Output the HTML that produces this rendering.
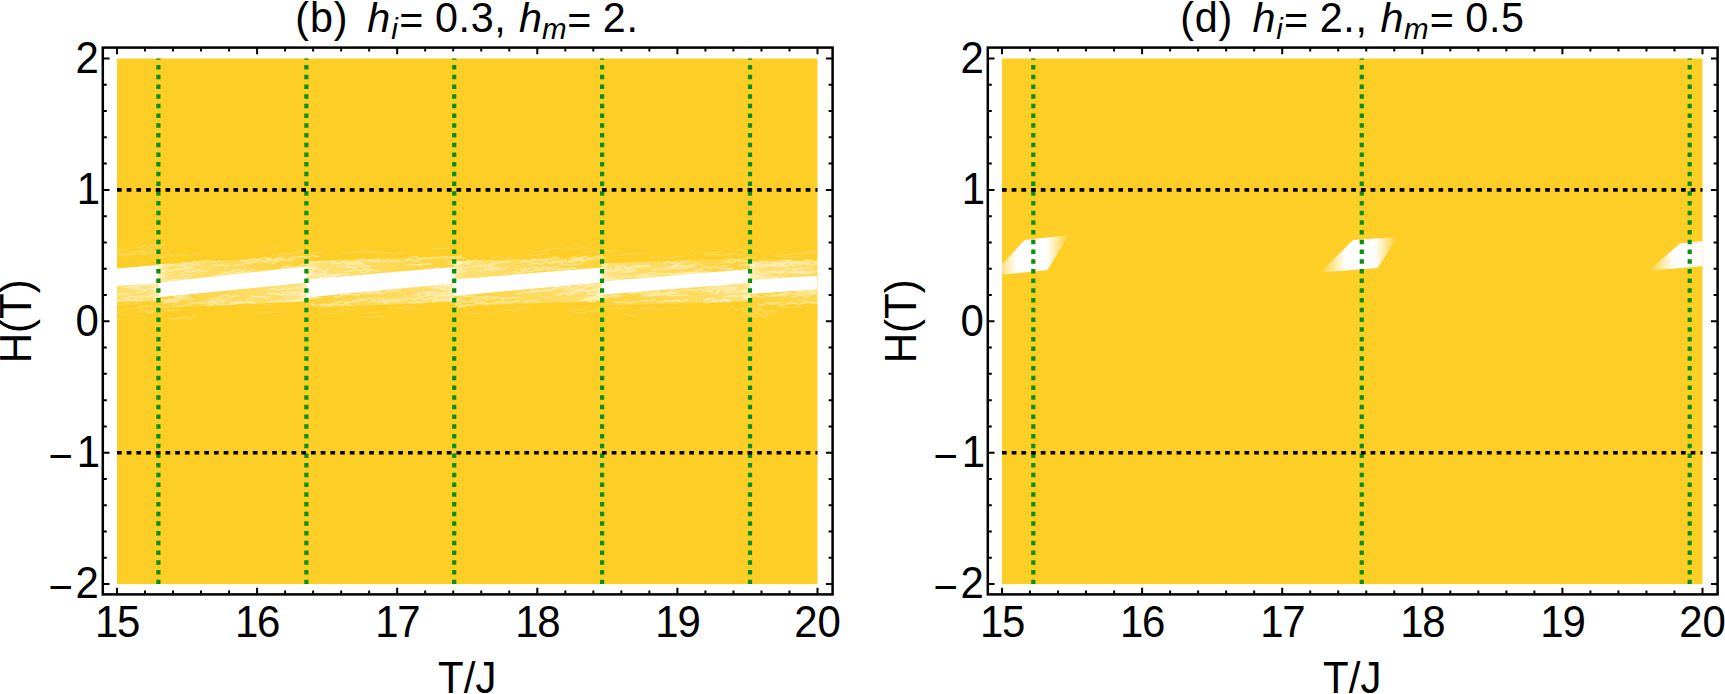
<!DOCTYPE html>
<html><head><meta charset="utf-8"><title>plot</title>
<style>
html,body{margin:0;padding:0;background:#fff;overflow:hidden}
svg{display:block}
text{font-family:"Liberation Sans",sans-serif;fill:#000}
</style></head><body>
<svg width="1725" height="694" viewBox="0 0 1725 694">
<defs>
<clipPath id="clipL"><rect x="117" y="58.5" width="700.5" height="525.6"/></clipPath>
<linearGradient id="blob" x1="0" y1="0" x2="1" y2="0">
<stop offset="0" stop-color="#fff" stop-opacity="0"/>
<stop offset="0.33" stop-color="#fff" stop-opacity="1"/>
<stop offset="0.71" stop-color="#fff" stop-opacity="1"/>
<stop offset="1" stop-color="#fff" stop-opacity="0"/>
</linearGradient>
<linearGradient id="pg1" gradientUnits="userSpaceOnUse" x1="158.4" y1="0" x2="10.5" y2="0"><stop offset="0" stop-color="#fff" stop-opacity="0.62"/><stop offset="0.07" stop-color="#fff" stop-opacity="0.36"/><stop offset="0.5" stop-color="#fff" stop-opacity="0.24"/><stop offset="1" stop-color="#fff" stop-opacity="0.08"/></linearGradient>
<linearGradient id="pg2" gradientUnits="userSpaceOnUse" x1="158.4" y1="0" x2="306.3" y2="0"><stop offset="0" stop-color="#fff" stop-opacity="0.62"/><stop offset="0.07" stop-color="#fff" stop-opacity="0.36"/><stop offset="0.5" stop-color="#fff" stop-opacity="0.24"/><stop offset="1" stop-color="#fff" stop-opacity="0.08"/></linearGradient>
<linearGradient id="pg3" gradientUnits="userSpaceOnUse" x1="306.3" y1="0" x2="158.4" y2="0"><stop offset="0" stop-color="#fff" stop-opacity="0.62"/><stop offset="0.07" stop-color="#fff" stop-opacity="0.36"/><stop offset="0.5" stop-color="#fff" stop-opacity="0.24"/><stop offset="1" stop-color="#fff" stop-opacity="0.08"/></linearGradient>
<linearGradient id="pg4" gradientUnits="userSpaceOnUse" x1="306.4" y1="0" x2="454.3" y2="0"><stop offset="0" stop-color="#fff" stop-opacity="0.62"/><stop offset="0.07" stop-color="#fff" stop-opacity="0.36"/><stop offset="0.5" stop-color="#fff" stop-opacity="0.24"/><stop offset="1" stop-color="#fff" stop-opacity="0.08"/></linearGradient>
<linearGradient id="pg5" gradientUnits="userSpaceOnUse" x1="454.3" y1="0" x2="306.4" y2="0"><stop offset="0" stop-color="#fff" stop-opacity="0.62"/><stop offset="0.07" stop-color="#fff" stop-opacity="0.36"/><stop offset="0.5" stop-color="#fff" stop-opacity="0.24"/><stop offset="1" stop-color="#fff" stop-opacity="0.08"/></linearGradient>
<linearGradient id="pg6" gradientUnits="userSpaceOnUse" x1="454.2" y1="0" x2="602.1" y2="0"><stop offset="0" stop-color="#fff" stop-opacity="0.62"/><stop offset="0.07" stop-color="#fff" stop-opacity="0.36"/><stop offset="0.5" stop-color="#fff" stop-opacity="0.24"/><stop offset="1" stop-color="#fff" stop-opacity="0.08"/></linearGradient>
<linearGradient id="pg7" gradientUnits="userSpaceOnUse" x1="602.1" y1="0" x2="454.2" y2="0"><stop offset="0" stop-color="#fff" stop-opacity="0.62"/><stop offset="0.07" stop-color="#fff" stop-opacity="0.36"/><stop offset="0.5" stop-color="#fff" stop-opacity="0.24"/><stop offset="1" stop-color="#fff" stop-opacity="0.08"/></linearGradient>
<linearGradient id="pg8" gradientUnits="userSpaceOnUse" x1="602.1" y1="0" x2="750" y2="0"><stop offset="0" stop-color="#fff" stop-opacity="0.62"/><stop offset="0.07" stop-color="#fff" stop-opacity="0.36"/><stop offset="0.5" stop-color="#fff" stop-opacity="0.24"/><stop offset="1" stop-color="#fff" stop-opacity="0.08"/></linearGradient>
<linearGradient id="pg9" gradientUnits="userSpaceOnUse" x1="750" y1="0" x2="602.1" y2="0"><stop offset="0" stop-color="#fff" stop-opacity="0.62"/><stop offset="0.07" stop-color="#fff" stop-opacity="0.36"/><stop offset="0.5" stop-color="#fff" stop-opacity="0.24"/><stop offset="1" stop-color="#fff" stop-opacity="0.08"/></linearGradient>
<linearGradient id="pg10" gradientUnits="userSpaceOnUse" x1="750" y1="0" x2="897.9" y2="0"><stop offset="0" stop-color="#fff" stop-opacity="0.62"/><stop offset="0.07" stop-color="#fff" stop-opacity="0.36"/><stop offset="0.5" stop-color="#fff" stop-opacity="0.24"/><stop offset="1" stop-color="#fff" stop-opacity="0.08"/></linearGradient>
<linearGradient id="pg11" gradientUnits="userSpaceOnUse" x1="897.9" y1="0" x2="750" y2="0"><stop offset="0" stop-color="#fff" stop-opacity="0.62"/><stop offset="0.07" stop-color="#fff" stop-opacity="0.36"/><stop offset="0.5" stop-color="#fff" stop-opacity="0.24"/><stop offset="1" stop-color="#fff" stop-opacity="0.08"/></linearGradient></defs>
<g>
<text transform="translate(295.34 31.5) scale(1 1.035)" font-size="41.3" letter-spacing="0.8">(b) </text>
<text transform="translate(367.2 31.5)" font-size="41.3" font-style="italic">h</text>
<text transform="translate(391.13 38.9)" font-size="29.5" font-style="italic">i</text>
<text transform="translate(399.28 33.8)" font-size="41.3">= </text>
<text transform="translate(434.88 31.5) scale(1 1.035)" font-size="41.3" letter-spacing="0.7">0.3, </text>
<text transform="translate(519.1 31.5)" font-size="41.3" font-style="italic">h</text>
<text transform="translate(542 38.9)" font-size="29.5" font-style="italic">m</text>
<text transform="translate(567.18 33.8)" font-size="41.3">= </text>
<text transform="translate(602.78 31.5) scale(1 1.035)" font-size="41.3" letter-spacing="0.7">2.</text>
<rect x="117" y="58.5" width="700.5" height="525.6" fill="#fdce26"/>
<g clip-path="url(#clipL)">
<polygon points="117,286.1 158.4,283.2 158.4,301.2 117,302.14" fill="url(#pg1)"/>
<polygon points="158.4,264.5 306.4,255.3 306.4,266.3 158.4,282.5" fill="url(#pg2)"/>
<polygon points="158.4,297.3 306.4,282.8 306.4,300.8 158.4,308.3" fill="url(#pg3)"/>
<polygon points="306.4,261.3 454.2,256 454.2,267 306.4,279.3" fill="url(#pg4)"/>
<polygon points="306.4,297.4 454.2,283.6 454.2,301.6 306.4,308.4" fill="url(#pg5)"/>
<polygon points="454.2,261.3 602.1,256.6 602.1,267.6 454.2,279.3" fill="url(#pg6)"/>
<polygon points="454.2,295.9 602.1,282.5 602.1,300.5 454.2,306.9" fill="url(#pg7)"/>
<polygon points="602.1,263.2 750,258.1 750,269.1 602.1,281.2" fill="url(#pg8)"/>
<polygon points="602.1,294.8 750,283.1 750,301.1 602.1,305.8" fill="url(#pg9)"/>
<polygon points="750,261.8 817.5,260.89 817.5,275.7 750,279.8" fill="url(#pg10)"/>
<polygon points="750,294.1 817.5,289.2 817.5,303.39 750,305.1" fill="url(#pg11)"/>
<path d="M123.26,296.98 L127.42,298.78 L131.58,296.21 L135.73,296.91 L139.89,297.71 L144.05,295.87 L148.2,296.66 L152.36,295.25 L156.52,296.87 M115.5,299.66 L119.93,300.61 L124.37,300.2 L128.8,300.03 L133.24,299.56 L137.67,300.5 L142.1,300.67 M127.81,286.91 L131.89,286.48 L135.98,287.18 L140.07,286.42 L144.16,284.65 L148.24,284.65 L152.33,285.17 L156.42,283.09 M133.8,285.66 L138.22,287.36 L142.64,285.29 L147.07,285.33 L151.49,285.45 M115.66,293.51 L120.91,294.19 L126.17,293.75 L131.43,293.62 M138.46,291.79 L143.09,291.75 L147.71,289.25 L152.34,289.07 L156.97,288.98 L161.6,288.74 M128.16,288.28 L132.66,289.19 L137.15,288.79 L141.65,289.08 L146.14,289.9 L150.63,288.91 L155.13,288.16 M121.3,287.79 L125.42,287.18 L129.55,287.17 L133.67,286.67 L137.8,285.26 L141.92,285 L146.05,283.9 L150.17,285.1 M265.57,260.52 L270.23,260.03 L274.89,260.65 L279.55,259.39 L284.21,259.49 M153.05,271.17 L157.31,271.19 L161.56,271.75 L165.81,270.06 L170.06,271.12 L174.32,269.62 L178.57,269.37 L182.82,269.01 L187.07,267.26 M202.41,262.67 L206.91,260.63 L211.42,261.19 L215.93,261.62 L220.43,260.86 M182.13,273.2 L186.36,270.92 L190.6,271.82 L194.83,270.57 L199.06,270.28 L203.3,271.29 L207.53,270.18 M214.96,274.81 L219.35,274.82 L223.74,274.06 L228.13,273.62 L232.52,273.66 L236.91,272.52 L241.3,272.29 L245.68,271.67 M280.87,268.83 L285.07,266.48 L289.27,266.88 L293.47,267.52 L297.66,266.8 L301.86,264.4 L306.06,263.92 L310.26,264.38 M154.32,266.56 L159.14,266.56 L163.97,266.56 L168.79,264.17 L173.62,265.42 M237.85,273.44 L242.14,270.9 L246.43,272.51 L250.71,270.51 L255,270.32 M288.27,258.15 L292.31,258.11 L296.35,257.33 L300.39,256.65 L304.43,256.71 L308.47,257.56 L312.51,255.31 L316.55,256.52 L320.59,255.92 M148.73,276.65 L152.99,275.01 L157.25,277.19 L161.51,276.25 L165.77,276.38 L170.03,273.56 M179.16,275.82 L184.12,274.94 L189.07,275.27 L194.03,276.15 M263.78,261.07 L268.71,259.75 L273.63,259.78 L278.55,257.72 L283.47,257.29 M239.43,261.72 L244.1,260.56 L248.77,260.72 L253.44,258.41 L258.11,260.26 L262.79,257.75 M269.39,262.08 L274.19,262.75 L278.98,260.53 L283.78,259.76 L288.58,260.5 L293.37,259.32 M158.94,264.54 L163.32,264.56 L167.71,264.26 L172.1,265.25 L176.49,263.65 M211.64,265.21 L216.12,265.51 L220.6,264.5 L225.08,266.16 L229.55,265.3 M164.66,279.55 L168.74,281.12 L172.81,279.6 L176.89,279.34 L180.96,279.86 L185.03,278.19 L189.11,278.08 M233.22,265.74 L237.67,265.04 L242.13,264.49 L246.58,263.49 L251.03,262.98 L255.48,261.81 L259.93,261.68 L264.38,261.16 L268.84,262.69 M176.48,265.78 L180.88,265.57 L185.28,264.72 L189.68,263.34 L194.07,262.94 M178.24,265.8 L182.25,265.01 L186.27,266.69 L190.29,266.44 L194.31,264.97 L198.33,263.84 L202.34,265.58 M181.63,262.74 L186,262.73 L190.36,262.54 L194.73,261.42 L199.1,262 L203.47,260.33 M178.42,268.79 L183.75,268.3 L189.07,268.66 L194.4,268.03 M221.34,272.3 L225.62,272.05 L229.89,272.09 L234.16,270.3 L238.44,269.71 L242.71,271.13 L246.98,268.38 M243.12,260.79 L247.15,260.69 L251.17,259.69 L255.19,259.73 L259.21,259.69 L263.23,257.55 L267.25,258.37 L271.28,258.05 M172.43,305.8 L176.96,306.4 L181.48,305.54 L186.01,305.31 L190.54,303.74 L195.07,302.92 L199.6,302.94 L204.13,303.31 M281.37,295 L285.42,294.71 L289.47,294.57 L293.51,293.75 L297.56,292.1 L301.61,294.03 L305.66,293.6 L309.71,292.63 L313.76,292.43 M210.75,301.41 L215.9,300.58 L221.05,300.79 L226.2,301.77 M270.82,302.19 L275.14,301.66 L279.47,301.7 L283.8,302.05 L288.12,302.06 L292.45,301.42 L296.77,301.27 L301.1,299.46 M283.09,297.1 L287.98,297.53 L292.88,295.67 L297.78,295.49 L302.67,295.77 M201.74,301.29 L205.91,301.64 L210.09,301.22 L214.26,300.95 L218.44,299.7 L222.62,301.6 L226.79,299.38 L230.97,301.28 M162.9,302.9 L167.7,302.95 L172.49,301.13 L177.29,300.26 M267.98,290.2 L272.33,288.59 L276.68,289.28 L281.03,290.09 L285.38,287.41 L289.73,288.96 L294.08,287.7 L298.43,288.38 L302.78,287.48 M265.77,293.27 L269.99,292.89 L274.21,293.94 L278.43,293.51 L282.65,292.78 L286.87,292.01 L291.09,292.26 L295.31,291.87 L299.52,293.02 M291.09,297.74 L295.45,299.74 L299.81,298.89 L304.17,299.16 L308.53,297.2 L312.89,297.17 L317.25,296.98 L321.61,298.42 M219.04,296.67 L223.42,295.69 L227.81,295.5 L232.2,297.21 L236.59,295.33 L240.97,296.81 M270.4,293.79 L275.36,293.94 L280.33,295.2 L285.29,294.63 L290.25,294.07 M206.14,305.23 L210.4,305.48 L214.66,303.38 L218.92,305.06 L223.18,304.05 L227.45,304.66 L231.71,304.13 L235.97,302.9 L240.23,302.01 M163.42,301.68 L167.62,301.23 L171.82,302.15 L176.02,302.5 L180.22,300.17 M208.72,299.53 L212.84,298.6 L216.96,298.29 L221.09,298.12 L225.21,299.78 L229.33,298.34 M267.13,302.6 L271.37,301.51 L275.61,301.44 L279.86,300.94 L284.1,301.43 L288.34,300.51 L292.58,300.71 L296.82,300.55 L301.07,301.21 M163.71,301.18 L168.07,301.15 L172.42,300.4 L176.78,299.95 L181.13,298.83 L185.49,299.09 L189.85,300.68 L194.2,297.98 M229.72,301.92 L234.36,301.81 L239,301.48 L243.64,301.64 L248.29,301.5 L252.93,302.66 L257.57,302.1 M174.29,296.71 L179.12,296.76 L183.94,295.12 L188.77,294.97 M295.09,301.01 L299.61,300.85 L304.14,300.93 L308.66,298.66 L313.18,298.03 L317.7,297.91 M226.17,304.66 L230.32,304.23 L234.46,304.34 L238.6,303.25 L242.75,303.3 L246.89,301.64 L251.03,303.5 L255.18,301.74 M158.96,299.55 L162.99,299.56 L167.02,300.3 L171.05,300.14 L175.08,298.16 L179.11,297.71 L183.14,298.64 L187.16,298.47 M251.61,296.06 L256.34,296.55 L261.07,296.66 L265.8,297.73 L270.53,296.52 M167.35,298.4 L171.43,300.04 L175.5,298.97 L179.58,297.5 L183.66,296.35 L187.73,297.33 L191.81,297.47 M246.53,299.98 L251.44,297.7 L256.36,296.83 L261.27,297.36 L266.19,297.26 M205.4,303.91 L209.99,302.97 L214.58,301.86 L219.17,303.72 L223.76,301.6 M442.04,256.28 L447,257.2 L451.95,257.6 L456.91,256.66 L461.87,255.87 M342.08,271.71 L346.69,271.67 L351.3,270.85 L355.9,269.02 L360.51,270.72 L365.12,268.88 L369.73,269.33 M334.36,262.91 L338.68,262.71 L343,262.26 L347.32,264.11 L351.64,263.05 L355.96,262.15 L360.28,262.15 L364.6,263.63 M360.14,272.3 L364.91,272.89 L369.68,270.05 L374.45,270.73 L379.23,271.34 M408.3,257.6 L412.56,256.95 L416.83,256.98 L421.09,259.02 L425.36,257.76 L429.62,258.57 L433.88,256.85 L438.15,258.07 L442.41,256.74 M318.28,276.26 L322.72,277.28 L327.17,276.98 L331.61,275.5 L336.06,275.56 L340.5,274.57 L344.94,274.39 L349.39,274.17 M370.19,260.69 L374.23,261.39 L378.28,262.19 L382.33,260.62 L386.38,260.8 L390.43,260.31 L394.47,261.78 L398.52,260.9 M302.97,268.74 L307.03,268.77 L311.09,267.01 L315.15,267 L319.21,268.26 M344.74,266.17 L348.79,264.17 L352.84,264.68 L356.88,263.89 L360.93,263.85 L364.98,264.9 M442.57,259.33 L446.97,257.66 L451.38,256.91 L455.78,259.22 L460.18,257.68 L464.58,258.59 M337.62,266.85 L341.8,266.2 L345.98,267.46 L350.15,267.47 L354.33,267.98 L358.51,265.44 L362.69,266.69 L366.87,265.75 L371.04,265.88 M309.61,271.68 L313.66,269.15 L317.7,269.97 L321.75,270.6 L325.8,270.81 L329.84,268.41 M300.19,279.32 L304.54,277.76 L308.88,279.85 L313.22,277.99 L317.57,279.08 L321.91,277.92 L326.25,278.14 L330.6,275.92 L334.94,277.32 M317.48,276.61 L322.06,274.46 L326.64,274.21 L331.22,274.37 L335.8,274.35 L340.38,273.63 M307.45,275.39 L312.31,272.65 L317.17,273.77 L322.03,273.97 L326.89,271.62 M416.64,265.15 L420.79,265.1 L424.94,263.93 L429.09,263.98 L433.23,264.17 M342.98,267.08 L347.05,265.69 L351.12,267.12 L355.19,266.53 L359.26,265.59 L363.33,266.83 L367.4,266.65 L371.48,265.51 M311.47,261.98 L315.54,262.66 L319.61,261.54 L323.68,262.36 L327.75,262.38 L331.81,260.9 L335.88,262.4 M297.84,275.95 L302.15,274.36 L306.45,275.3 L310.76,274.64 L315.06,275.93 L319.37,273.34 L323.67,275.04 L327.98,275.12 M390.52,262.35 L395.08,260.77 L399.64,261.86 L404.21,261.54 L408.77,259.24 L413.33,260.78 L417.89,260.97 L422.45,258.34 M331,264.2 L335.37,262.27 L339.75,263.59 L344.13,261.52 L348.5,262.34 L352.88,263.32 L357.26,261.13 L361.63,261.1 M358.97,259.09 L363.17,258.88 L367.37,260.89 L371.58,260.01 L375.78,260.46 L379.99,258.27 M407.32,265.08 L411.45,264.05 L415.59,265.24 L419.72,264.09 L423.85,263.91 M424.68,269.73 L428.75,268.74 L432.83,269.53 L436.9,267.7 L440.98,269.39 M368.85,302.08 L373.24,301.08 L377.62,302.42 L382.01,300.22 L386.39,302.13 L390.78,300.3 M351.9,301.32 L356.35,300.04 L360.81,298.88 L365.26,298.68 L369.72,298.71 L374.18,299.72 L378.63,298.91 L383.09,298.85 L387.54,299.63 M432.94,295.34 L437.69,294.99 L442.44,295.68 L447.19,294.69 L451.94,295.09 M417.97,295.75 L422.44,296.63 L426.92,295.92 L431.39,294.67 L435.86,296.62 L440.34,294.39 L444.81,293.83 M432.3,301.21 L436.31,299.94 L440.31,299.34 L444.32,298.43 L448.33,299.99 L452.33,299.55 L456.34,298.75 L460.34,299.37 M383.36,300.25 L387.69,301.83 L392.01,299.17 L396.34,300.28 L400.67,299.68 L405,298.95 L409.32,298.2 L413.65,299.96 L417.98,297.56 M366.7,292.9 L371.04,293.67 L375.37,293.01 L379.71,293.01 L384.05,293.12 L388.39,290.95 L392.72,290.95 L397.06,290.55 L401.4,289.47 M310.94,303.62 L315.4,305.7 L319.86,305.15 L324.32,304.11 L328.78,304.61 L333.24,303.54 L337.7,302.64 L342.16,302.04 M422.94,292.76 L427.89,292.22 L432.84,292.26 L437.79,291.5 M412.88,295.26 L417.24,294.2 L421.6,293.16 L425.97,293.9 L430.33,294.49 L434.7,292.07 L439.06,293.61 M443.55,289.41 L448.48,289.56 L453.41,288.6 L458.34,287.02 L463.27,288.17 M407.8,302.64 L412.62,302.57 L417.44,302.25 L422.25,302.88 L427.07,301.21 M320.72,305.9 L324.91,306.48 L329.11,305.83 L333.3,304.87 L337.49,304.39 L341.68,305.31 L345.88,303.57 L350.07,305.68 M433.73,288.53 L438.59,286.46 L443.45,285.47 L448.32,284.72 M436.8,296.66 L440.98,296.51 L445.15,294.36 L449.33,295.57 L453.51,294.67 L457.68,295.68 L461.86,295.42 L466.04,295.35 M432.71,302.38 L436.85,299.82 L440.99,299.89 L445.12,299.42 L449.26,299 L453.4,301.07 L457.53,300.76 L461.67,300.06 L465.81,300.38 M360.83,292.55 L364.89,294.03 L368.96,292.13 L373.02,292.09 L377.09,292.02 L381.15,290.53 M417.09,298.32 L421.13,297.95 L425.17,299.51 L429.22,297.98 L433.26,298.71 L437.3,297.82 M440.74,293.2 L445.35,291.67 L449.97,292.33 L454.59,291.53 L459.2,290.3 L463.82,291.77 M430.81,287.27 L434.81,287.49 L438.82,288.71 L442.82,288.97 L446.82,285.91 L450.83,286.93 L454.83,286.59 L458.84,287.1 L462.84,285.05 M382.08,301.79 L386.41,303.47 L390.73,301.39 L395.06,300.96 L399.39,302.09 L403.72,301.29 M430.84,287.95 L434.84,287.34 L438.84,287.23 L442.84,286.43 L446.85,285.31 L450.85,285.08 L454.85,284.7 L458.85,285.73 M430.53,285.41 L434.72,285.19 L438.91,286.59 L443.11,285.08 L447.3,284.35 L451.49,285.38 L455.69,283.17 L459.88,283.42 L464.07,283.23 M334.99,302.29 L339.36,301.95 L343.72,301.2 L348.09,302.85 L352.46,302.07 L356.82,302.02 L361.19,300.14 L365.56,300.62 M333.63,296.3 L338.08,297.1 L342.54,294.89 L347,294.37 L351.45,294.29 L355.91,295.03 L360.37,295.03 M490.74,263.02 L495.4,262.93 L500.07,262.27 L504.74,261.63 L509.4,261.71 M459.64,267.78 L464.04,268.07 L468.44,267.85 L472.84,266.66 L477.24,265.96 L481.65,266.46 L486.05,265.06 L490.45,266.83 L494.85,265.28 M565.09,261.88 L570.06,262.12 L575.03,261.2 L580,260.44 L584.97,262.21 M474.79,265.73 L479.64,265.36 L484.49,265.72 L489.33,265.56 L494.18,264.51 M572.64,259.16 L576.74,259.24 L580.84,258.76 L584.94,256.81 L589.04,258.61 L593.14,257.91 L597.24,256.04 L601.34,255.89 L605.44,258.38 M531.76,259.29 L536.63,259.37 L541.51,260.71 L546.38,259.32 L551.26,258.6 M568.88,260.86 L573.37,259.89 L577.85,260.2 L582.34,259.7 L586.83,260.16 L591.32,259.68 L595.81,259.65 L600.29,257.67 M534.84,269.09 L539.12,270.05 L543.4,268.84 L547.68,267.74 L551.96,267.37 L556.24,266.82 L560.52,267.52 M446.31,264.18 L450.36,264.04 L454.4,264 L458.45,264.75 L462.5,262.2 L466.54,264.38 L470.59,263.18 M511.94,271.95 L516.03,271.78 L520.12,273 L524.21,270.23 L528.3,271.51 L532.4,271.22 L536.49,269.22 L540.58,270.56 M528.72,265.06 L533.03,263.54 L537.34,263.26 L541.65,264.21 L545.96,261.59 L550.27,263.3 L554.59,262.84 L558.9,261.83 L563.21,263.09 M484.11,269.82 L488.18,268.02 L492.25,268.42 L496.33,268.16 L500.4,268.29 L504.47,268.83 L508.55,267.1 M559.53,263.87 L564.11,264.27 L568.68,265.33 L573.26,264.18 L577.83,264.31 L582.41,262.76 M479.1,270.75 L483.22,270.92 L487.33,268.6 L491.45,270.26 L495.57,270.47 L499.68,269.28 M447.37,260.76 L451.49,262.68 L455.61,261.67 L459.73,261.68 L463.85,261.91 L467.98,262.12 M520.43,269.06 L525.03,268.5 L529.62,268.46 L534.22,266.86 L538.81,267.85 L543.41,266.98 L548,267.55 M453.66,262.75 L458.16,262.99 L462.66,262.12 L467.16,261.16 L471.65,262.28 M550.57,261.15 L554.96,261.29 L559.36,260.81 L563.75,260.93 L568.15,261.33 L572.54,261.95 L576.93,259.3 M519.62,261.86 L524.57,261.02 L529.53,261.79 L534.48,260.29 M443.66,273.81 L448.17,273.66 L452.67,271.98 L457.17,271.53 L461.68,270.39 L466.18,271.64 M466.84,259.78 L471.18,261.54 L475.51,259.83 L479.85,262.05 L484.18,259.45 M569.97,258.46 L574.18,256.98 L578.39,258.22 L582.6,256.56 L586.81,256.03 M546.73,270.66 L550.97,268.54 L555.21,269.76 L559.46,269.68 L563.7,268.68 L567.94,269.69 L572.18,267.48 L576.43,269.17 M544.69,259.05 L549.44,259.36 L554.19,257.14 L558.94,257.63 M493.57,303.37 L497.98,301.96 L502.4,302.6 L506.81,302.96 L511.22,302.36 M502.7,301.72 L507,302.29 L511.3,302.02 L515.59,301.2 L519.89,300.88 M475.21,303.59 L479.55,302.59 L483.9,301.71 L488.25,304.04 L492.6,303.05 L496.95,303.16 L501.3,301.54 L505.65,302.08 L509.99,302.88 M471.09,297.81 L475.63,298.75 L480.17,296.98 L484.7,297.49 L489.24,296.92 L493.78,297.4 L498.32,296.8 M564.51,289.96 L569.19,290.05 L573.87,290.33 L578.55,290.16 M583.1,299.13 L587.14,298.09 L591.18,297.05 L595.22,298.45 L599.26,298.12 L603.3,297.57 L607.35,298 L611.39,296.2 L615.43,295.25 M515.69,293.82 L520.2,293.96 L524.7,291.64 L529.21,292.32 L533.72,292.15 L538.22,291.19 L542.73,290.1 L547.23,289.87 M482.97,297.82 L487.46,299.53 L491.95,299.12 L496.43,297.3 L500.92,297.96 L505.41,298.54 L509.9,298.2 L514.39,296.87 M530.05,290.93 L534.55,290.53 L539.04,291.62 L543.53,290.3 L548.03,290.5 L552.52,289.68 L557.02,289.63 M580.92,301.02 L585.91,300.05 L590.9,301.31 L595.9,301.52 M574.01,290.85 L578.54,289.12 L583.06,288.82 L587.58,291.16 L592.1,290.48 L596.63,289.08 L601.15,288.97 M558.86,294.46 L563.31,293.65 L567.76,293.48 L572.21,293.57 L576.65,291.27 L581.1,290.35 L585.55,290.5 L590,290.13 M587.88,294.48 L592.93,293.01 L597.97,294.05 L603.01,293.62 M583.74,289.91 L588.27,291.93 L592.8,289.64 L597.32,290.18 L601.85,290.07 L606.37,290.62 L610.9,289.5 M544.13,291.49 L548.9,291.17 L553.68,288.62 L558.45,287.71 L563.22,287.92 L567.99,287.79 M455,303.8 L459.24,305.65 L463.48,305.22 L467.72,304.83 L471.95,305.56 L476.19,302.74 L480.43,302.78 L484.67,304.27 L488.9,304.57 M501.01,300.2 L505.12,298.11 L509.24,298.47 L513.35,298.02 L517.47,297.39 L521.58,298.14 M576.5,287.72 L581.31,285.45 L586.12,287.02 L590.94,285.16 L595.75,284.31 M458.02,307.02 L462.73,306.87 L467.45,304.55 L472.16,305.19 L476.87,303.99 M450.98,302.87 L455.05,302.31 L459.12,303.42 L463.18,302.2 L467.25,302.38 L471.31,300.77 L475.38,300.74 L479.45,300.03 L483.51,301.63 M522.92,301.43 L527.21,301.62 L531.51,300.7 L535.81,300.81 L540.1,302.19 M555.63,293.96 L560.05,295.3 L564.47,292.79 L568.9,294.91 L573.32,292.04 M458.99,297.77 L463.09,296.91 L467.19,296.5 L471.29,296.01 L475.39,296.13 L479.49,297.56 L483.59,297.25 L487.69,296.71 M583.85,298.27 L587.93,299.95 L592,298.54 L596.07,300.26 L600.15,297.37 L604.22,299.39 M555.03,287.73 L559.3,286.48 L563.57,285.14 L567.84,285.45 L572.11,286.4 M566.75,287.06 L571.18,288.34 L575.61,287.81 L580.04,285.99 L584.46,285.29 L588.89,284.94 L593.32,286.03 M692.61,269.63 L696.94,269.56 L701.27,269.28 L705.59,266.62 L709.92,268.04 L714.25,266.71 L718.57,267.59 L722.9,266.18 L727.23,266.65 M722.32,262.2 L726.93,261.74 L731.54,262.97 L736.16,260.9 L740.77,260.74 L745.38,261.48 L749.99,259.79 M661.76,268.29 L666.14,268.59 L670.51,268.52 L674.89,267.18 L679.27,266.86 L683.65,266.62 L688.03,266.82 L692.41,266.88 L696.79,266.29 M619.42,272.94 L624.73,271.98 L630.04,271.54 L635.35,271.45 M607.21,271.34 L611.45,271.29 L615.68,270.64 L619.91,269.96 L624.15,269.53 L628.38,269.24 L632.61,269.81 L636.84,269.21 M670.75,267.05 L675.5,265.06 L680.26,265.71 L685.01,265.28 M615.01,268.66 L619.48,266.72 L623.94,266.25 L628.41,268.28 L632.87,266.86 L637.34,265.58 L641.81,266.28 L646.27,266.21 L650.74,266.82 M601.91,281.15 L606.65,279.14 L611.39,279.27 L616.13,278.93 L620.87,279.46 M666.51,273.31 L670.6,273.63 L674.69,273.34 L678.77,273.08 L682.86,271.99 L686.95,272.56 L691.04,272.04 L695.12,272.32 L699.21,269.81 M719.47,268.92 L724.17,268.34 L728.87,269.31 L733.57,267.89 M636.18,276.63 L640.64,275.65 L645.1,275.52 L649.56,275.19 L654.03,275.6 L658.49,274.06 L662.95,273.99 L667.42,274.11 M636.34,275.89 L640.56,274.61 L644.77,274.15 L648.99,273.12 L653.21,273.15 L657.42,272.4 M662.83,263.61 L667.29,261.77 L671.76,263.05 L676.22,262.87 L680.69,263.03 L685.16,260.75 L689.62,261.19 M726.54,259.67 L731.28,259.3 L736.03,260.31 L740.77,259.73 M652.34,269.6 L656.84,269.8 L661.34,268.71 L665.83,268.36 L670.33,268.76 L674.82,267.81 L679.32,269.21 L683.81,268.19 L688.31,267.5 M599.19,270.74 L603.64,270.54 L608.09,271.16 L612.53,271.16 L616.98,269.58 L621.43,269.22 M666.27,266.21 L670.76,266.78 L675.25,264.75 L679.74,264.93 L684.22,266.55 L688.71,265.9 L693.2,264.79 L697.69,263.44 L702.18,265.41 M679.06,275.85 L683.07,274.22 L687.08,273.15 L691.08,273.2 L695.09,273.49 L699.1,273.15 L703.1,271.93 L707.11,271.59 L711.12,272.52 M669.83,275.95 L674.18,273.93 L678.53,274.61 L682.89,275.31 L687.24,273.61 L691.6,274.33 M591.9,279.36 L596.04,279.28 L600.17,277.65 L604.31,278.19 L608.45,278.04 L612.59,276.92 M675.04,275.4 L679.33,274.59 L683.61,273.43 L687.89,273.18 L692.17,274.52 L696.45,272.34 L700.74,271.97 M605.56,278.08 L609.81,278.31 L614.06,275.91 L618.31,275.46 L622.56,277.27 L626.81,275.71 L631.06,276.49 M633.6,265.39 L638.03,267.44 L642.46,266.33 L646.89,265.47 L651.33,265.54 M639.45,276.6 L644.52,277.27 L649.58,275.42 L654.65,275.54 M716.46,302.02 L721.45,300.34 L726.44,301.8 L731.43,301.39 M703.03,301.95 L707.57,303.07 L712.12,300.94 L716.66,301.19 L721.2,301.96 L725.74,300.42 L730.29,300.51 M612.45,302.37 L616.56,302 L620.67,302.35 L624.78,301.7 L628.89,303.73 L633,301.65 L637.11,302.24 M727.24,291.16 L731.53,289.95 L735.82,289.85 L740.11,291.56 L744.4,289.97 L748.69,289.41 L752.98,288.99 M709.78,287.3 L714.59,286.03 L719.39,285.14 L724.2,286.3 L729,284.21 M705.07,288.52 L709.12,289.33 L713.17,288.95 L717.21,286.84 L721.26,287.09 L725.31,287.83 L729.35,286.56 L733.4,287.9 L737.44,285.5 M598.56,297.41 L602.75,296.22 L606.93,297.55 L611.11,296.01 L615.3,297.52 L619.48,296.36 L623.67,295.46 M710.65,290.69 L715.22,288.27 L719.78,289.05 L724.34,288.82 L728.91,287.74 L733.47,288.83 L738.03,287.43 M649.19,294.88 L653.6,293.74 L658.02,293.71 L662.43,295.32 L666.84,293.55 L671.26,294.22 L675.67,292.39 M667.06,296.14 L671.45,295.24 L675.84,295.69 L680.23,295.21 L684.62,294.68 L689.01,296.09 M708.12,301.74 L712.7,301.88 L717.27,301.65 L721.84,299.45 L726.42,299.69 L730.99,298.83 M644.44,295.78 L648.52,296.21 L652.61,296.07 L656.69,294.55 L660.78,295.97 L664.86,294.33 L668.95,294.85 L673.03,293.34 M723.03,298.1 L727.29,296.03 L731.55,295.84 L735.81,296 L740.07,295.91 L744.33,296.01 L748.59,296.04 L752.85,294.9 L757.11,295.47 M656.64,302.08 L661.13,302.32 L665.62,300.85 L670.1,301.17 L674.59,301.7 M703.31,300.74 L707.98,299.18 L712.66,298.32 L717.33,300.4 M663.17,292.28 L668.19,293.84 L673.2,291.88 L678.22,293.51 M638.91,300.44 L644.21,301.19 L649.5,301.17 L654.8,299.39 M725.31,293.39 L729.66,292.47 L734.01,292.34 L738.36,292.34 L742.72,291.52 L747.07,290.77 L751.42,289.4 L755.77,290.95 L760.13,289.93 M668.75,292.07 L673.06,289.74 L677.36,291.27 L681.66,291.25 L685.96,289.41 L690.27,289.89 L694.57,290.76 L698.87,289.52 L703.17,288.94 M716.24,291.39 L721.34,290.49 L726.45,290.47 L731.55,289.67 M639.75,294.14 L643.85,294.63 L647.96,294.15 L652.07,295.25 L656.17,293.33 L660.28,292.91 L664.39,294.27 L668.5,291.91 M667.16,301.27 L671.43,301.69 L675.7,299.86 L679.96,301.08 L684.23,300.72 L688.5,300.16 M627.84,293.57 L631.88,293.47 L635.91,292.75 L639.95,292.04 L643.99,292.36 L648.02,291.83 L652.06,292.94 L656.09,291.94 L660.13,290.7 M701.63,291.7 L705.68,291.18 L709.73,290.76 L713.78,293.25 L717.83,292.33 L721.88,290.21 L725.94,291.73 M592.55,296.67 L596.95,296.19 L601.35,295.18 L605.75,295.85 L610.15,294.02 L614.55,296.25 L618.95,295.16 M779.02,264.69 L783.4,263.85 L787.78,262.04 L792.16,263.99 L796.54,262.68 L800.92,261.98 L805.3,264.11 L809.68,262.92 M790.58,272.5 L794.83,272.79 L799.08,272.95 L803.33,271.74 L807.59,273.15 M749.48,274.35 L753.6,275.45 L757.72,274.51 L761.83,275.02 L765.95,273.96 L770.07,274.76 M797.93,272.44 L802.35,273.41 L806.78,272.96 L811.2,273.15 L815.63,270.97 M754.57,279.22 L758.88,277.07 L763.2,278.39 L767.52,276.72 L771.84,277.73 L776.15,278.19 L780.47,276.01 L784.79,278.03 M781.51,264.42 L786.41,265.4 L791.32,264.57 L796.22,263.15 L801.12,262.78 M738.49,265.54 L743.01,264.7 L747.52,265.71 L752.04,264.76 L756.55,263.99 L761.07,265.94 L765.59,264.9 L770.1,265.22 M784.29,261.12 L788.65,260.53 L793.01,261.45 L797.37,262.43 L801.72,262.16 L806.08,259.96 L810.44,260.31 L814.8,262.03 L819.16,261.58 M758.74,265.43 L762.82,264.08 L766.9,265.34 L770.97,264.52 L775.05,262.94 L779.13,263.56 L783.21,263.16 M795.2,260.96 L799.69,261.43 L804.18,261.66 L808.68,261.89 L813.17,261.29 L817.66,261.13 L822.16,260.09 M773.43,261.72 L777.7,263.13 L781.97,260.44 L786.24,260.66 L790.51,262.07 L794.78,260.89 M750.84,266.69 L755.01,266.47 L759.17,267.56 L763.34,267.55 L767.51,264.76 L771.67,266.13 L775.84,266.61 M791.39,271.78 L795.83,270.82 L800.26,270.4 L804.69,271.65 L809.13,271.68 L813.56,271.67 L817.99,270.75 L822.43,269.51 M783.03,270.1 L787.35,269.14 L791.67,269.54 L796,268.97 L800.32,267.84 L804.65,268.46 L808.97,268.25 L813.3,269.95 M766.03,265.04 L770.45,265.25 L774.86,264.54 L779.28,264.07 L783.7,266.38 L788.11,265.1 M761.31,266 L765.73,265.59 L770.15,266.13 L774.57,266.03 L778.99,267.07 L783.41,266.46 L787.82,267.42 M750.42,271.11 L754.7,271.21 L758.99,272.16 L763.27,273.12 L767.55,271.18 L771.84,272.17 L776.12,271.03 L780.4,272.08 L784.69,269.67 M760.4,265.81 L764.62,265.04 L768.84,265.33 L773.06,265.51 L777.29,266.62 L781.51,265.14 L785.73,265.54 L789.95,264.87 L794.18,265.88 M792.1,265.04 L796.14,265.59 L800.18,264.48 L804.21,262.93 L808.25,264.88 L812.29,264.98 L816.33,263.39 L820.36,262.72 M745.46,278.2 L749.76,278.76 L754.06,276.53 L758.37,276.61 L762.67,277.56 L766.97,277.04 L771.27,276.13 M780.89,262.1 L785.17,260.99 L789.46,262.55 L793.74,261.67 L798.03,262.04 L802.32,262.26 M750.26,263.23 L754.29,262.16 L758.32,263.29 L762.35,260.63 L766.38,262.13 L770.42,262.39 L774.45,261.22 M744.77,265.22 L749.13,263.24 L753.49,265.18 L757.85,263.99 L762.21,264.23 M771.69,272.95 L776.06,272 L780.42,272.95 L784.79,271.41 L789.16,272.48 L793.53,272.43 L797.9,272.27 M786.43,303.76 L790.86,303.15 L795.29,303.72 L799.72,304.78 L804.15,302.39 L808.58,301.93 L813,303.12 L817.43,303.51 M757.5,304.03 L761.89,305.4 L766.29,303.42 L770.68,303.13 L775.08,303.31 L779.47,302.99 M775.88,295.68 L780.25,293.79 L784.62,292.9 L788.99,292.7 L793.36,293.99 L797.73,294.23 L802.1,291.82 M801.13,294.99 L805.58,293.37 L810.02,293.48 L814.47,292.39 L818.91,293.4 L823.36,292.17 L827.8,291.52 L832.25,292.87 M798.26,291.87 L802.57,290.89 L806.87,291.89 L811.18,289.34 L815.48,290.45 L819.79,289.72 L824.09,290.84 L828.4,290.62 M770.37,294.97 L775.1,295.16 L779.83,294.31 L784.56,293.94 L789.3,295.21 M768.37,303.77 L772.49,304.66 L776.6,303.4 L780.71,305.27 L784.83,305.18 L788.94,303.39 M754.22,296.49 L758.23,296.68 L762.24,297.58 L766.25,295.3 L770.27,296.52 L774.28,296.04 L778.29,295.4 L782.31,295.52 L786.32,296.13 M791.2,296.56 L795.38,296.56 L799.56,294.42 L803.73,296.1 L807.91,296.23 L812.09,294.05 L816.27,293.05 L820.45,293.06 L824.63,295.25 M800.27,293.13 L804.53,291.06 L808.79,290.98 L813.04,292.14 L817.3,290.21 L821.56,290.63 L825.82,291.97 L830.07,291.12 L834.33,291.31 M744.35,297.85 L749.26,297.26 L754.17,295.13 L759.07,296.14 M794.92,290.87 L799.61,293.27 L804.31,291.07 L809,292.32 L813.69,289.88 L818.39,290.59" stroke="#fff" stroke-width="1.3" opacity="0.45" fill="none"/>
<path d="M118.45,254.8 L122.78,255.95 L127.11,255.32 L131.44,254.31 L135.77,255.42 M105.91,249.48 L110.62,250.25 L115.33,251.21 L120.04,249.08 L124.75,249.19 L129.45,250.16 M142.36,253.96 L146.81,251.2 L151.26,253.32 L155.71,251.57 L160.16,251.01 L164.61,250.78 L169.06,251.16 M140.13,254.94 L144.62,254.04 L149.11,254.37 L153.61,252.86 L158.1,252.69 M108.26,253.6 L112.4,254.22 L116.54,253.7 L120.67,253.13 L124.81,254.37 L128.95,253.96 L133.09,252.54 L137.23,253.32 M149.37,245.56 L154.53,245.87 L159.69,244.89 L164.85,244.56 M146.38,246.83 L150.44,249.06 L154.49,248.19 L158.55,246.75 L162.61,246.9 M136.35,247.07 L140.76,247.32 L145.16,245.69 L149.56,245.59 L153.96,244.32 L158.36,244.22 M137.63,252.16 L142.59,251.6 L147.55,254.03 L152.5,252.67 L157.46,251.43 M131.8,251.65 L136.66,251.15 L141.53,250.52 L146.39,249.13 M137.75,252.63 L142.17,253.17 L146.59,251.75 L151,251.3 L155.42,252.8 M141.24,312.15 L145.34,311.84 L149.43,310.31 L153.53,311.03 L157.62,310.49 L161.72,309.48 L165.81,309.38 L169.91,309.99 L174,309.84 M125.63,308.53 L130.01,308.58 L134.39,308.39 L138.77,306.63 L143.15,306.13 L147.53,306.05 L151.92,305.86 L156.3,305.79 L160.68,306.86 M137.06,307.87 L141.12,308.19 L145.18,306.09 L149.25,307.61 L153.31,308.22 L157.37,307.77 L161.43,307.59 L165.49,306.73 L169.55,305.8 M137.13,312.61 L141.4,310.9 L145.66,310.82 L149.92,312.25 L154.19,311.54 L158.45,309.88 M111.48,313.98 L115.81,312.04 L120.14,313.84 L124.47,314.17 L128.8,313.17 M115.13,302.39 L119.47,304.97 L123.82,303.98 L128.16,303.53 L132.51,304.57 L136.85,303.08 L141.2,304.2 M181.37,256.02 L186.14,254.42 L190.91,255.96 L195.68,254.39 L200.45,253.23 M272.09,255.35 L276.73,252.81 L281.36,253.22 L286,252.42 L290.63,254.26 L295.27,251.65 M295.08,251.06 L300.19,250.7 L305.29,249.96 L310.4,250.38 M160.32,257.46 L164.57,256.66 L168.82,254.4 L173.07,255.9 L177.32,254.84 L181.57,254.56 M260.28,247.58 L264.71,247.51 L269.14,248.92 L273.58,246.32 L278.01,248.4 M274.76,256.39 L279.13,255.03 L283.5,253.68 L287.87,254.6 L292.24,254.04 L296.61,255.3 M166.33,317.35 L170.73,318.19 L175.13,319.09 L179.54,318.74 L183.94,316.48 L188.34,316.25 M145.91,312.71 L150.19,312.92 L154.47,311.13 L158.75,310.73 L163.03,312.43 L167.31,311.26 L171.59,310.05 L175.87,311.11 L180.15,309.77 M180.92,317.39 L185.61,316.36 L190.3,316.99 L195,314.18 M170.24,320.45 L174.32,318.66 L178.39,318.07 L182.47,318.37 L186.55,318.34 L190.62,319.35 L194.7,317.06 M255.7,314.01 L260.02,313.33 L264.34,312.33 L268.66,312.08 L272.99,311.98 L277.31,312.94 L281.63,310.75 L285.95,310.87 M252.47,303.01 L257.33,304.21 L262.19,303.33 L267.05,304.92 L271.91,304.4 M431.16,248.81 L435.51,249.2 L439.87,248.04 L444.23,248.35 L448.59,247.8 M295.96,253.99 L300.25,251.42 L304.54,252.06 L308.83,253.59 L313.12,252.9 L317.41,252.58 L321.7,251.59 L325.99,250.76 M361.75,251.07 L365.84,249.93 L369.93,250.8 L374.02,251.75 L378.1,251.33 M378.03,252.36 L382.68,253.49 L387.33,252.76 L391.98,253.54 L396.63,253.84 L401.29,252.33 L405.94,252.57 M339.56,253.02 L344.22,253.29 L348.87,252.83 L353.52,252.45 L358.18,252.71 L362.83,252.06 M357.35,252.96 L362.14,251.3 L366.94,252.03 L371.74,252.88 L376.54,252.51 L381.33,252.1 M320.88,313.54 L325.54,312.73 L330.2,313.26 L334.87,313.76 L339.53,311.45 L344.19,312.55 M403.15,311.15 L407.66,308.32 L412.17,309.53 L416.68,308.25 L421.19,309.78 L425.7,310.02 M363.43,312.78 L367.49,313.09 L371.54,312.33 L375.6,312.5 L379.65,312.84 M360.42,316.48 L365.02,317.59 L369.63,316.56 L374.23,317.39 L378.84,315.38 L383.44,317.59 M339.35,309.89 L344.43,308.58 L349.51,309.48 L354.59,309.25 M389.87,306.97 L394.21,308.22 L398.56,308.57 L402.91,307.21 L407.26,306.15 L411.61,307.58 M530.6,251.25 L534.61,251.39 L538.61,251.55 L542.62,250.78 L546.63,249.59 L550.63,249.08 M490.35,256.12 L494.94,258.09 L499.54,256.61 L504.14,257.89 L508.73,257.8 L513.33,256.62 M584.28,252.97 L588.54,251.14 L592.79,250.78 L597.04,252.46 L601.29,251.02 L605.55,250.31 L609.8,250.76 L614.05,251.25 L618.31,249.46 M524.92,253.15 L529.68,254.66 L534.44,254.79 L539.2,254.78 L543.96,253.1 L548.72,254.04 M542.51,250.15 L546.87,250.24 L551.23,248.81 L555.59,248.73 L559.95,248.64 L564.31,248.52 L568.68,246.93 L573.04,249.44 M570.34,247.94 L574.84,249.38 L579.35,247.03 L583.85,247.08 L588.35,248.62 M466.18,313.79 L470.98,313.43 L475.77,313.73 L480.57,311.84 M563.5,301.66 L567.75,302.51 L572.01,302.35 L576.26,301.54 L580.51,300.92 L584.77,301.53 L589.02,300.59 L593.27,301.68 M568.26,309.53 L572.57,307.71 L576.88,309.38 L581.19,309.5 L585.5,307.78 M488.04,311.45 L492.1,312.8 L496.16,312.17 L500.22,310.76 L504.28,310.31 L508.34,310.4 L512.4,310.51 L516.46,311.86 L520.52,311.19 M570.19,310.8 L574.75,311.9 L579.31,312.94 L583.87,312.68 L588.43,310.56 L593,310.85 L597.56,311.24 L602.12,310.29 M513.45,309.55 L518.62,307.97 L523.8,308.08 L528.97,310.18 M650.07,257.38 L654.39,257.21 L658.71,256.76 L663.04,256.3 L667.36,258.24 L671.68,258.28 L676,256.61 L680.32,256.15 L684.65,257.27 M612.86,255.31 L617.15,255.29 L621.45,254.9 L625.75,253.58 L630.05,253.04 L634.35,254.68 L638.65,253.12 L642.94,253.11 L647.24,253.47 M691.28,251.23 L695.32,252.57 L699.35,252.6 L703.39,253 L707.42,252.54 L711.46,252.96 L715.5,252.93 L719.53,251.53 L723.57,251.4 M725.03,253.6 L729.15,255.16 L733.27,253.55 L737.39,254.19 L741.5,255.52 L745.62,252.91 M735.52,251.13 L740.26,248.95 L744.99,251.14 L749.73,251.01 L754.46,250.66 L759.19,249.48 M705.16,254.57 L709.24,254.2 L713.32,254.34 L717.4,254.84 L721.48,255.14 L725.56,255.22 L729.64,253.01 L733.72,253.24 M642.38,307.84 L646.78,307.4 L651.18,307.92 L655.58,308.17 L659.98,309.46 L664.37,309.14 L668.77,308.88 M727.7,310.12 L732.09,307.88 L736.49,309.46 L740.88,309.13 L745.28,308.12 L749.67,308.75 L754.07,309.68 L758.46,308.22 L762.86,308.54 M624.07,314.4 L628.38,314.71 L632.69,315.95 L637,315.16 L641.31,314.01 L645.62,315.49 M631.68,309.94 L636.14,309.9 L640.61,309.28 L645.07,308.35 L649.53,308.39 L654,310.24 L658.46,309.14 M595.23,307.93 L599.35,309.02 L603.47,308.1 L607.59,308.64 L611.71,308.69 L615.83,307.64 L619.95,308.48 L624.07,307.06 L628.2,308.05 M670.44,307.33 L675.7,308.19 L680.95,309.21 L686.21,308.17 M800.22,253.44 L804.91,251.87 L809.59,253.46 L814.28,252.73 L818.96,251.58 L823.65,252.19 M772.28,254.2 L776.56,256.25 L780.83,255.95 L785.11,255.47 L789.38,254.13 L793.66,253.81 L797.94,253.99 L802.21,253.39 L806.49,253.26 M777.01,256.62 L781.6,255.57 L786.2,257.41 L790.8,257.25 L795.39,256.88 L799.99,256.83 M757.22,261.05 L761.67,260.1 L766.13,259.82 L770.58,260.04 L775.03,261.53 L779.48,259.83 L783.93,259.76 L788.38,259.77 L792.84,258.97 M743.08,259.16 L747.79,257.22 L752.49,258.16 L757.2,257.44 M796.93,253.29 L801.52,253.07 L806.12,253.35 L810.71,250.89 L815.3,252.63 M752.42,311.11 L756.45,312.85 L760.48,310.03 L764.51,312.01 L768.54,312.21 L772.57,311.15 L776.6,311.27 L780.63,312.3 M747.09,313.75 L751.73,314.57 L756.37,313.56 L761.01,313.82 L765.65,313.94 L770.29,314 L774.94,312.89 M774.83,307.47 L779.15,306.38 L783.48,308.08 L787.8,306.75 L792.13,307.34 L796.45,306.67 L800.78,306.43 M751.68,316.27 L755.96,316.14 L760.24,316.05 L764.52,316.74 L768.8,315.02 M741.46,311.23 L745.47,311.65 L749.48,311.74 L753.49,311.57 L757.5,309.16 L761.51,310 L765.52,311.16 L769.53,311.02 L773.54,308.97 M746.74,306.01 L751.62,307.14 L756.5,306.23 L761.39,305.91 L766.27,304.77" stroke="#fff" stroke-width="1.2" opacity="0.2" fill="none"/>
<polygon points="117,268.5 158.4,265.1 158.4,283.2 117,286.1" fill="#fff"/>
<polygon points="158.4,282.5 306.4,266.3 306.4,282.8 158.4,297.3" fill="#fff"/>
<polygon points="306.4,279.3 454.2,267 454.2,283.6 306.4,297.4" fill="#fff"/>
<polygon points="454.2,279.3 602.1,267.6 602.1,282.5 454.2,295.9" fill="#fff"/>
<polygon points="602.1,281.2 750,269.1 750,283.1 602.1,294.8" fill="#fff"/>
<polygon points="750,279.8 817.5,275.7 817.5,289.2 750,294.1" fill="#fff"/>
</g>
<path d="M158.4 45.58V593.81" stroke="#08900f" stroke-width="4.2" stroke-dasharray="4.5 5.21" fill="none" clip-path="url(#clipL)"/>
<path d="M306.4 45.58V593.81" stroke="#08900f" stroke-width="4.2" stroke-dasharray="4.5 5.21" fill="none" clip-path="url(#clipL)"/>
<path d="M454.2 45.58V593.81" stroke="#08900f" stroke-width="4.2" stroke-dasharray="4.5 5.21" fill="none" clip-path="url(#clipL)"/>
<path d="M602.1 45.58V593.81" stroke="#08900f" stroke-width="4.2" stroke-dasharray="4.5 5.21" fill="none" clip-path="url(#clipL)"/>
<path d="M750 45.58V593.81" stroke="#08900f" stroke-width="4.2" stroke-dasharray="4.5 5.21" fill="none" clip-path="url(#clipL)"/>
<path d="M97.59 189.9H827.21" stroke="#000" stroke-width="3.6" stroke-dasharray="4.7 5" fill="none" clip-path="url(#clipL)"/>
<path d="M97.59 452.7H827.21" stroke="#000" stroke-width="3.6" stroke-dasharray="4.7 5" fill="none" clip-path="url(#clipL)"/>
<rect x="102.8" y="47.6" width="729.8" height="546.8" fill="none" stroke="#000" stroke-width="2.5"/>
<path d="M117 594.4V587.7M117 47.6V54.3M145.02 594.4V590.4M145.02 47.6V51.6M173.04 594.4V590.4M173.04 47.6V51.6M201.06 594.4V590.4M201.06 47.6V51.6M229.08 594.4V590.4M229.08 47.6V51.6M257.1 594.4V587.7M257.1 47.6V54.3M285.12 594.4V590.4M285.12 47.6V51.6M313.14 594.4V590.4M313.14 47.6V51.6M341.16 594.4V590.4M341.16 47.6V51.6M369.18 594.4V590.4M369.18 47.6V51.6M397.2 594.4V587.7M397.2 47.6V54.3M425.22 594.4V590.4M425.22 47.6V51.6M453.24 594.4V590.4M453.24 47.6V51.6M481.26 594.4V590.4M481.26 47.6V51.6M509.28 594.4V590.4M509.28 47.6V51.6M537.3 594.4V587.7M537.3 47.6V54.3M565.32 594.4V590.4M565.32 47.6V51.6M593.34 594.4V590.4M593.34 47.6V51.6M621.36 594.4V590.4M621.36 47.6V51.6M649.38 594.4V590.4M649.38 47.6V51.6M677.4 594.4V587.7M677.4 47.6V54.3M705.42 594.4V590.4M705.42 47.6V51.6M733.44 594.4V590.4M733.44 47.6V51.6M761.46 594.4V590.4M761.46 47.6V51.6M789.48 594.4V590.4M789.48 47.6V51.6M817.5 594.4V587.7M817.5 47.6V54.3M102.8 584.1H109.5M832.6 584.1H825.9M102.8 557.82H106.8M832.6 557.82H828.6M102.8 531.54H106.8M832.6 531.54H828.6M102.8 505.26H106.8M832.6 505.26H828.6M102.8 478.98H106.8M832.6 478.98H828.6M102.8 452.7H109.5M832.6 452.7H825.9M102.8 426.42H106.8M832.6 426.42H828.6M102.8 400.14H106.8M832.6 400.14H828.6M102.8 373.86H106.8M832.6 373.86H828.6M102.8 347.58H106.8M832.6 347.58H828.6M102.8 321.3H109.5M832.6 321.3H825.9M102.8 295.02H106.8M832.6 295.02H828.6M102.8 268.74H106.8M832.6 268.74H828.6M102.8 242.46H106.8M832.6 242.46H828.6M102.8 216.18H106.8M832.6 216.18H828.6M102.8 189.9H109.5M832.6 189.9H825.9M102.8 163.62H106.8M832.6 163.62H828.6M102.8 137.34H106.8M832.6 137.34H828.6M102.8 111.06H106.8M832.6 111.06H828.6M102.8 84.78H106.8M832.6 84.78H828.6M102.8 58.5H109.5M832.6 58.5H825.9" stroke="#000" stroke-width="2.0" fill="none"/>
<text transform="translate(0 636.8) scale(1 1.035)" font-size="42"><tspan x="94.95" y="0">1</tspan><tspan x="117" y="0">5</tspan></text>
<text transform="translate(0 636.8) scale(1 1.035)" font-size="42"><tspan x="235.05" y="0">1</tspan><tspan x="257.1" y="0">6</tspan></text>
<text transform="translate(0 636.8) scale(1 1.035)" font-size="42"><tspan x="375.15" y="0">1</tspan><tspan x="397.2" y="0">7</tspan></text>
<text transform="translate(0 636.8) scale(1 1.035)" font-size="42"><tspan x="515.25" y="0">1</tspan><tspan x="537.3" y="0">8</tspan></text>
<text transform="translate(0 636.8) scale(1 1.035)" font-size="42"><tspan x="655.35" y="0">1</tspan><tspan x="677.4" y="0">9</tspan></text>
<text transform="translate(0 636.8) scale(1 1.035)" font-size="42"><tspan x="794.15" y="0">2</tspan><tspan x="817.5" y="0">0</tspan></text>
<text transform="translate(98.8 72.8) scale(1 1.035)" text-anchor="end" font-size="42">2</text>
<text transform="translate(100 204.2) scale(1 1.035)" text-anchor="end" font-size="42">1</text>
<text transform="translate(98.8 335.6) scale(1 1.035)" text-anchor="end" font-size="42">0</text>
<text transform="translate(0 467) scale(1 1.035)" font-size="42"><tspan x="48.62" y="3.77">−</tspan><tspan x="76.65" y="0">1</tspan></text>
<text transform="translate(0 598.4) scale(1 1.035)" font-size="42"><tspan x="48.62" y="3.77">−</tspan><tspan x="75.45" y="0">2</tspan></text>
<text transform="translate(467.25 692.8) scale(1 1.035)" text-anchor="middle" font-size="42">T/J</text>
<text transform="translate(31 321.3) rotate(-90) scale(1 1.035)" text-anchor="middle" font-size="42">H(T)</text>
</g>
<g transform="translate(885 0)">
<text transform="translate(295.24 31.5) scale(1 1.035)" font-size="41.3" letter-spacing="0.8">(d) </text>
<text transform="translate(367.6 31.5)" font-size="41.3" font-style="italic">h</text>
<text transform="translate(391.23 38.9)" font-size="29.5" font-style="italic">i</text>
<text transform="translate(399.08 33.8)" font-size="41.3">= </text>
<text transform="translate(434.68 31.5) scale(1 1.035)" font-size="41.3" letter-spacing="0.7">2., </text>
<text transform="translate(495.6 31.5)" font-size="41.3" font-style="italic">h</text>
<text transform="translate(518.9 38.9)" font-size="29.5" font-style="italic">m</text>
<text transform="translate(544.68 33.8)" font-size="41.3">= </text>
<text transform="translate(580.28 31.5) scale(1 1.035)" font-size="41.3" letter-spacing="0.7">0.5</text>
<rect x="117" y="58.5" width="700.5" height="525.6" fill="#fdce26"/>
<g clip-path="url(#clipL)">
<polygon points="106.3,275.8 139.5,240.1 184.1,234.9 162.5,270" fill="url(#blob)" transform="translate(0 0)"/>
<polygon points="435,272.5 468,240 512.6,237 492.6,268" fill="url(#blob)" transform="translate(0 0)"/>
<polygon points="763,270.8 795,243.6 839.7,238.5 819.7,265.8" fill="url(#blob)" transform="translate(0 0)"/>
</g>
<path d="M148.3 45.58V593.81" stroke="#08900f" stroke-width="4.2" stroke-dasharray="4.5 5.21" fill="none" clip-path="url(#clipL)"/>
<path d="M476.8 45.58V593.81" stroke="#08900f" stroke-width="4.2" stroke-dasharray="4.5 5.21" fill="none" clip-path="url(#clipL)"/>
<path d="M804.7 45.58V593.81" stroke="#08900f" stroke-width="4.2" stroke-dasharray="4.5 5.21" fill="none" clip-path="url(#clipL)"/>
<path d="M97.59 189.9H827.21" stroke="#000" stroke-width="3.6" stroke-dasharray="4.7 5" fill="none" clip-path="url(#clipL)"/>
<path d="M97.59 452.7H827.21" stroke="#000" stroke-width="3.6" stroke-dasharray="4.7 5" fill="none" clip-path="url(#clipL)"/>
<rect x="102.8" y="47.6" width="729.8" height="546.8" fill="none" stroke="#000" stroke-width="2.5"/>
<path d="M117 594.4V587.7M117 47.6V54.3M145.02 594.4V590.4M145.02 47.6V51.6M173.04 594.4V590.4M173.04 47.6V51.6M201.06 594.4V590.4M201.06 47.6V51.6M229.08 594.4V590.4M229.08 47.6V51.6M257.1 594.4V587.7M257.1 47.6V54.3M285.12 594.4V590.4M285.12 47.6V51.6M313.14 594.4V590.4M313.14 47.6V51.6M341.16 594.4V590.4M341.16 47.6V51.6M369.18 594.4V590.4M369.18 47.6V51.6M397.2 594.4V587.7M397.2 47.6V54.3M425.22 594.4V590.4M425.22 47.6V51.6M453.24 594.4V590.4M453.24 47.6V51.6M481.26 594.4V590.4M481.26 47.6V51.6M509.28 594.4V590.4M509.28 47.6V51.6M537.3 594.4V587.7M537.3 47.6V54.3M565.32 594.4V590.4M565.32 47.6V51.6M593.34 594.4V590.4M593.34 47.6V51.6M621.36 594.4V590.4M621.36 47.6V51.6M649.38 594.4V590.4M649.38 47.6V51.6M677.4 594.4V587.7M677.4 47.6V54.3M705.42 594.4V590.4M705.42 47.6V51.6M733.44 594.4V590.4M733.44 47.6V51.6M761.46 594.4V590.4M761.46 47.6V51.6M789.48 594.4V590.4M789.48 47.6V51.6M817.5 594.4V587.7M817.5 47.6V54.3M102.8 584.1H109.5M832.6 584.1H825.9M102.8 557.82H106.8M832.6 557.82H828.6M102.8 531.54H106.8M832.6 531.54H828.6M102.8 505.26H106.8M832.6 505.26H828.6M102.8 478.98H106.8M832.6 478.98H828.6M102.8 452.7H109.5M832.6 452.7H825.9M102.8 426.42H106.8M832.6 426.42H828.6M102.8 400.14H106.8M832.6 400.14H828.6M102.8 373.86H106.8M832.6 373.86H828.6M102.8 347.58H106.8M832.6 347.58H828.6M102.8 321.3H109.5M832.6 321.3H825.9M102.8 295.02H106.8M832.6 295.02H828.6M102.8 268.74H106.8M832.6 268.74H828.6M102.8 242.46H106.8M832.6 242.46H828.6M102.8 216.18H106.8M832.6 216.18H828.6M102.8 189.9H109.5M832.6 189.9H825.9M102.8 163.62H106.8M832.6 163.62H828.6M102.8 137.34H106.8M832.6 137.34H828.6M102.8 111.06H106.8M832.6 111.06H828.6M102.8 84.78H106.8M832.6 84.78H828.6M102.8 58.5H109.5M832.6 58.5H825.9" stroke="#000" stroke-width="2.0" fill="none"/>
<text transform="translate(0 636.8) scale(1 1.035)" font-size="42"><tspan x="94.95" y="0">1</tspan><tspan x="117" y="0">5</tspan></text>
<text transform="translate(0 636.8) scale(1 1.035)" font-size="42"><tspan x="235.05" y="0">1</tspan><tspan x="257.1" y="0">6</tspan></text>
<text transform="translate(0 636.8) scale(1 1.035)" font-size="42"><tspan x="375.15" y="0">1</tspan><tspan x="397.2" y="0">7</tspan></text>
<text transform="translate(0 636.8) scale(1 1.035)" font-size="42"><tspan x="515.25" y="0">1</tspan><tspan x="537.3" y="0">8</tspan></text>
<text transform="translate(0 636.8) scale(1 1.035)" font-size="42"><tspan x="655.35" y="0">1</tspan><tspan x="677.4" y="0">9</tspan></text>
<text transform="translate(0 636.8) scale(1 1.035)" font-size="42"><tspan x="794.15" y="0">2</tspan><tspan x="817.5" y="0">0</tspan></text>
<text transform="translate(98.8 72.8) scale(1 1.035)" text-anchor="end" font-size="42">2</text>
<text transform="translate(100 204.2) scale(1 1.035)" text-anchor="end" font-size="42">1</text>
<text transform="translate(98.8 335.6) scale(1 1.035)" text-anchor="end" font-size="42">0</text>
<text transform="translate(0 467) scale(1 1.035)" font-size="42"><tspan x="48.62" y="3.77">−</tspan><tspan x="76.65" y="0">1</tspan></text>
<text transform="translate(0 598.4) scale(1 1.035)" font-size="42"><tspan x="48.62" y="3.77">−</tspan><tspan x="75.45" y="0">2</tspan></text>
<text transform="translate(467.25 692.8) scale(1 1.035)" text-anchor="middle" font-size="42">T/J</text>
<text transform="translate(31 321.3) rotate(-90) scale(1 1.035)" text-anchor="middle" font-size="42">H(T)</text>
</g>
</svg>
</body></html>
